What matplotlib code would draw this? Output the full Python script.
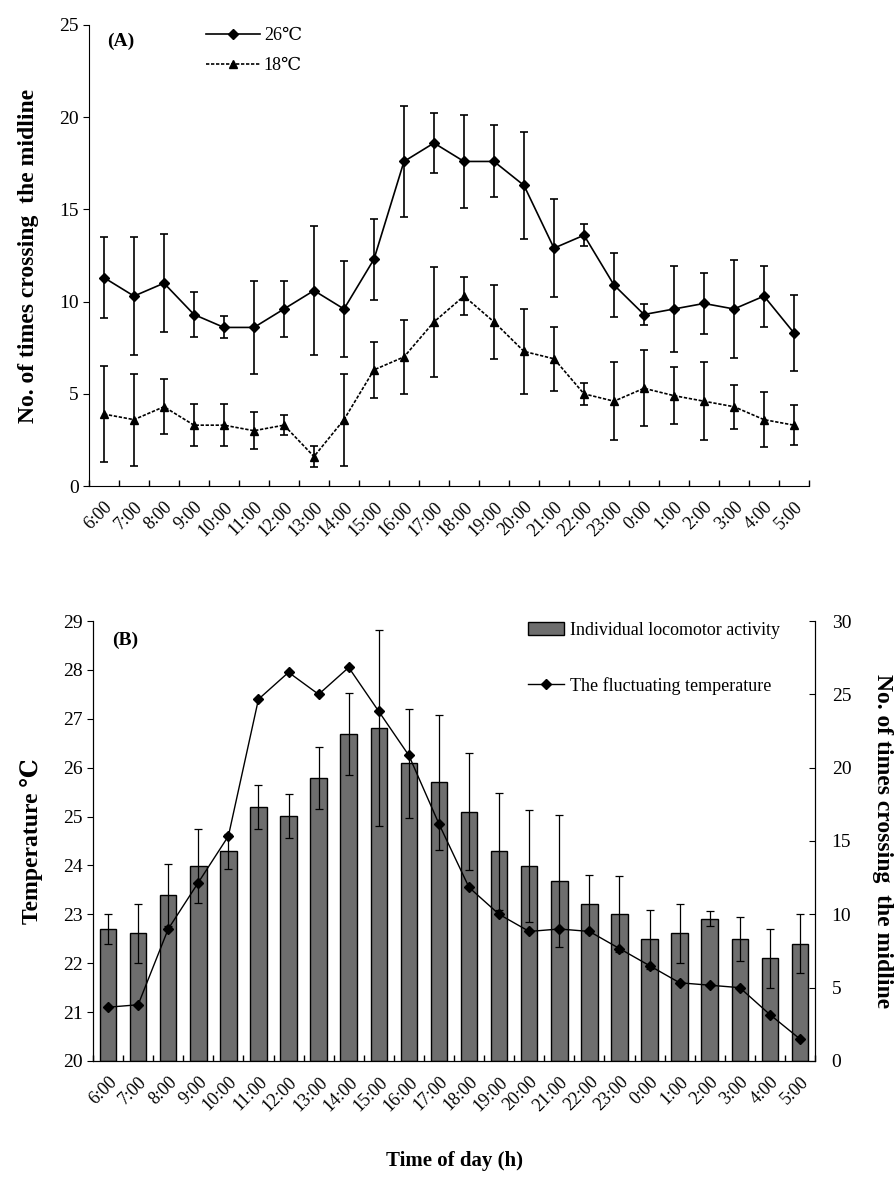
import matplotlib
matplotlib.use('Agg')
import matplotlib.pyplot as plt
import numpy as np

plt.rcParams['font.family'] = ['Liberation Serif', 'DejaVu Serif']

hours = ['6:00', '7:00', '8:00', '9:00', '10:00', '11:00', '12:00', '13:00',
         '14:00', '15:00', '16:00', '17:00', '18:00', '19:00', '20:00', '21:00',
         '22:00', '23:00', '0:00', '1:00', '2:00', '3:00', '4:00', '5:00']

# panel A: crossings at constant temperatures
mean_26 = [11.3, 10.3, 11.0, 9.3, 8.6, 8.6, 9.6, 10.6, 9.6, 12.3, 17.6, 18.6,
           17.6, 17.6, 16.3, 12.9, 13.6, 10.9, 9.3, 9.6, 9.9, 9.6, 10.3, 8.3]
err_26 = [2.2, 3.2, 2.65, 1.2, 0.6, 2.5, 1.5, 3.5, 2.6, 2.2, 3.0, 1.65,
          2.5, 1.95, 2.9, 2.65, 0.6, 1.75, 0.55, 2.35, 1.65, 2.65, 1.65, 2.05]
mean_18 = [3.9, 3.6, 4.3, 3.3, 3.3, 3.0, 3.3, 1.6, 3.6, 6.3, 7.0, 8.9,
           10.3, 8.9, 7.3, 6.9, 5.0, 4.6, 5.3, 4.9, 4.6, 4.3, 3.6, 3.3]
err_18 = [2.6, 2.5, 1.5, 1.15, 1.15, 1.0, 0.55, 0.55, 2.5, 1.5, 2.0, 3.0,
          1.05, 2.0, 2.3, 1.75, 0.6, 2.1, 2.05, 1.55, 2.1, 1.2, 1.5, 1.1]

# panel B: fluctuating temperature
activity = [9.0, 8.7, 11.3, 13.3, 14.3, 17.3, 16.7, 19.3, 22.3, 22.7, 20.3, 19.0,
            17.0, 14.3, 13.3, 12.3, 10.7, 10.0, 8.3, 8.7, 9.7, 8.3, 7.0, 8.0]
activity_err = [1.0, 2.0, 2.1, 2.5, 1.2, 1.5, 1.5, 2.1, 2.8, 6.7, 3.7, 4.6,
                4.0, 4.0, 3.8, 4.5, 2.0, 2.6, 2.0, 2.0, 0.5, 1.5, 2.0, 2.0]
temperature = [21.1, 21.15, 22.7, 23.65, 24.6, 27.4, 27.95, 27.5, 28.05, 27.15, 26.25, 24.85,
               23.55, 23.0, 22.65, 22.7, 22.65, 22.3, 21.95, 21.6, 21.55, 21.5, 20.95, 20.45]

x = np.arange(len(hours)) + 0.5
ylab = 'No. of times crossing  the midline'

fig = plt.figure(figsize=(8.96, 11.84), dpi=100)


def setup_xaxis(ax):
    ax.set_xlim(0, len(hours))
    ax.set_xticks(np.arange(len(hours) + 1))
    ax.set_xticklabels([])
    ax.set_xticks(x, minor=True)
    ax.set_xticklabels(hours, minor=True, rotation=45, ha='right',
                       rotation_mode='anchor', fontsize=13)
    ax.tick_params(axis='x', which='major', direction='in', length=4, width=1)
    ax.tick_params(axis='x', which='minor', length=0, pad=9)


# ---- (A)
axA = fig.add_axes([0.0993, 0.5895, 0.8036, 0.3894])
axA.errorbar(x, mean_26, yerr=err_26, color='black', lw=1.2, marker='D', ms=5,
             capsize=3, elinewidth=1.2, capthick=1.2, label='26\u2103')
axA.errorbar(x, mean_18, yerr=err_18, color='black', lw=1.2, ls=(0, (2, 1)), marker='^',
             ms=6, capsize=3, elinewidth=1.2, capthick=1.2, label='18\u2103')
axA.set_ylim(0, 25)
axA.set_yticks([0, 5, 10, 15, 20, 25])
axA.tick_params(axis='y', direction='out', length=4, labelsize=14)
setup_xaxis(axA)
for s in ['top', 'right']:
    axA.spines[s].set_visible(False)
axA.set_ylabel(ylab, fontsize=17, fontweight='bold', labelpad=14)
axA.text(0.025, 0.955, '(A)', transform=axA.transAxes, fontsize=14, fontweight='bold')
h, l = axA.get_legend_handles_labels()
h = [hh[0] for hh in h]
axA.legend(h, l, loc='upper left', bbox_to_anchor=(0.14, 1.03), frameon=False,
           fontsize=13, handlelength=3.0, labelspacing=0.7, handletextpad=0.2)

# ---- (B)
axB = fig.add_axes([0.1038, 0.1039, 0.8058, 0.3716])
axB2 = axB.twinx()
axB2.bar(x, activity, width=0.55, color='#6e6e6e', edgecolor='black', lw=1,
         yerr=activity_err, error_kw=dict(ecolor='black', elinewidth=0.9, capsize=3, capthick=0.9),
         label='Individual locomotor activity')
axB2.set_ylim(0, 30)
axB2.set_yticks([0, 5, 10, 15, 20, 25, 30])
axB2.tick_params(axis='y', direction='in', length=4, labelsize=14, pad=12)
axB2.set_ylabel(ylab, fontsize=17, fontweight='bold', rotation=-90, labelpad=30)

axB.plot(x, temperature, color='black', lw=1, marker='D', ms=5,
         label='The fluctuating temperature')
axB.set_zorder(axB2.get_zorder() + 1)
axB.patch.set_visible(False)
axB.set_ylim(20, 29)
axB.set_yticks(range(20, 30))
axB.tick_params(axis='y', direction='out', length=4, labelsize=14)
setup_xaxis(axB)
for s in ['top']:
    axB.spines[s].set_visible(False)
    axB2.spines[s].set_visible(False)
axB.set_ylabel('Temperature \u2103', fontsize=17, fontweight='bold', labelpad=14)
axB.set_xlabel('Time of day (h)', fontsize=15, fontweight='bold', labelpad=26)
axB.text(0.027, 0.945, '(B)', transform=axB.transAxes, fontsize=14, fontweight='bold')

hb, lb = axB2.get_legend_handles_labels()
hl, ll = axB.get_legend_handles_labels()
axB.legend(hb + hl, lb + ll, loc='upper left', bbox_to_anchor=(0.58, 1.035), frameon=False,
           fontsize=13, handlelength=2.0, labelspacing=2.1, handletextpad=0.3)

fig.savefig('out.png', dpi=100)
